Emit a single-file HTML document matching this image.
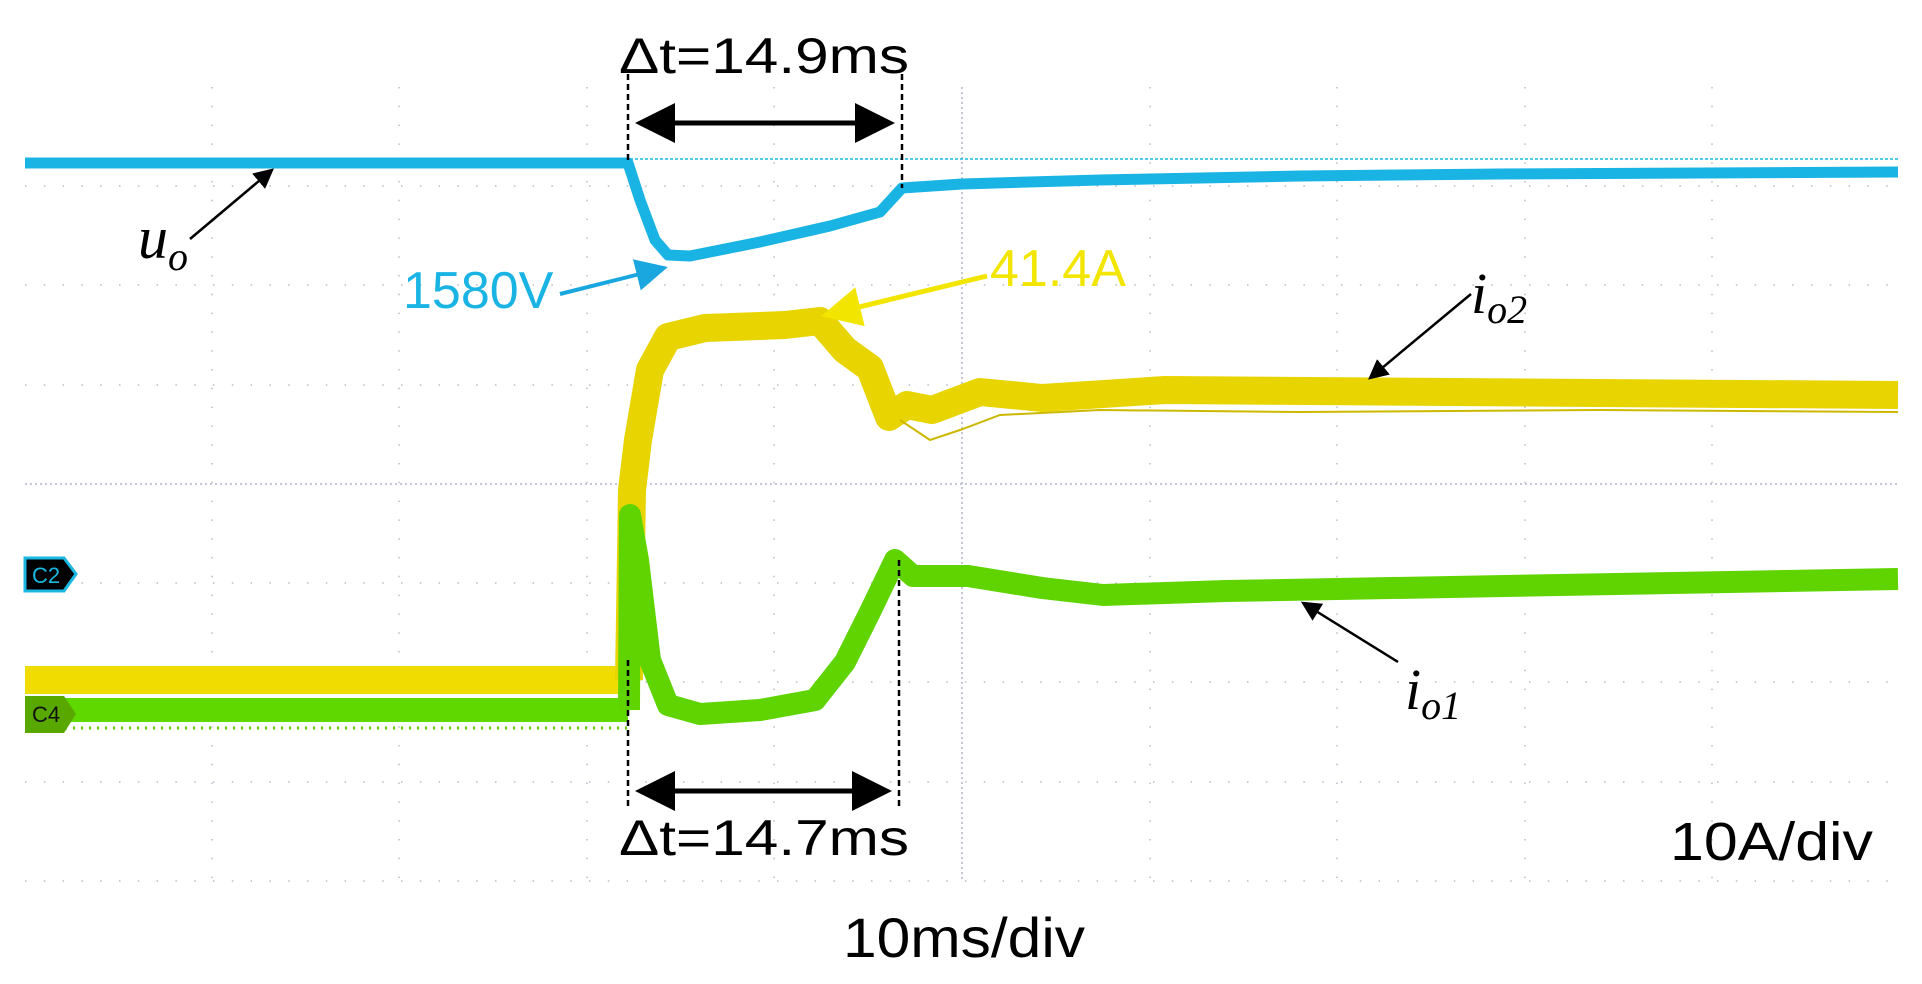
<!DOCTYPE html>
<html><head><meta charset="utf-8"><style>
html,body{margin:0;padding:0;background:#fff;}
svg{display:block;}
</style></head><body>
<svg width="1922" height="984" viewBox="0 0 1922 984" xmlns="http://www.w3.org/2000/svg" font-family="Liberation Sans, sans-serif">
<defs>
<marker id="ah" markerWidth="8" markerHeight="8" refX="7" refY="4" orient="auto" markerUnits="strokeWidth"><path d="M0,0 L8,4 L0,8 z" fill="#000"/></marker>
<marker id="ahb" markerWidth="8" markerHeight="8" refX="7" refY="4" orient="auto" markerUnits="strokeWidth"><path d="M0,0 L8,4 L0,8 z" fill="#1aa7e0"/></marker>
<marker id="ahy" markerWidth="8" markerHeight="8" refX="7" refY="4" orient="auto" markerUnits="strokeWidth"><path d="M0,0 L8,4 L0,8 z" fill="#f2e600"/></marker>
</defs>
<!-- grid -->
<g stroke="#b8bcc8" stroke-width="1.5" stroke-dasharray="1.5 17.3">
<line x1="212" y1="87" x2="212" y2="881"/><line x1="399" y1="87" x2="399" y2="881"/>
<line x1="587" y1="87" x2="587" y2="881"/><line x1="774" y1="87" x2="774" y2="881"/>
<line x1="1150" y1="87" x2="1150" y2="881"/><line x1="1337" y1="87" x2="1337" y2="881"/>
<line x1="1525" y1="87" x2="1525" y2="881"/><line x1="1712" y1="87" x2="1712" y2="881"/>
<line x1="25" y1="186" x2="1898" y2="186"/><line x1="25" y1="285" x2="1898" y2="285"/>
<line x1="25" y1="385" x2="1898" y2="385"/><line x1="25" y1="583" x2="1898" y2="583"/>
<line x1="25" y1="682" x2="1898" y2="682"/><line x1="25" y1="782" x2="1898" y2="782"/>
<line x1="25" y1="881" x2="1898" y2="881"/>
</g>
<g stroke="#b0b6c8" stroke-width="1.5" stroke-dasharray="2 3">
<line x1="962" y1="87" x2="962" y2="881"/><line x1="25" y1="484" x2="1898" y2="484"/>
</g>
<!-- cyan reference -->
<line x1="25" y1="159" x2="1898" y2="159" stroke="#1ab8e0" stroke-width="1.5" stroke-dasharray="3 2"/>
<!-- blue trace -->
<polyline fill="none" stroke="#1ab4e4" stroke-width="11" stroke-linejoin="round" points="25,163 628,163 640,200 655,240 668,255 690,256 760,242 830,226 880,212 902,188 962,184 1100,180 1300,176 1500,174 1898,172"/>
<!-- yellow trace -->
<polyline fill="none" stroke="#f0dc00" stroke-width="28" stroke-linejoin="round" points="25,680 628,680"/>
<polyline fill="none" stroke="#e8d400" stroke-width="28" stroke-linejoin="round" points="629,680 632,490 638,440 650,370 668,337 705,328 785,325 820,321 845,350 870,368 889,417 907,405 932,410 980,392 1042,398 1165,390 1898,395"/>
<polyline fill="none" stroke="#cdb800" stroke-width="2" points="900,420 930,440 960,430 1000,415 1100,410 1300,412 1600,410 1898,412"/>
<!-- green trace -->
<polyline fill="none" stroke="#5fd800" stroke-width="24" points="25,710 628,710"/>
<polyline fill="none" stroke="#5cc800" stroke-width="3" stroke-dasharray="2 6" points="25,728 628,728"/>
<polyline fill="none" stroke="#5fd400" stroke-width="22" stroke-linejoin="round" points="629,710 630,515 638,560 650,660 668,705 700,714 760,710 815,700 845,662 870,612 895,560 913,576 968,576 1042,588 1103,595 1226,591 1898,579"/>
<!-- markers -->
<path d="M25,558 L64,558 L76,574 L64,591 L25,591 z" fill="#000" stroke="#1ab8e0" stroke-width="3"/>
<text x="32" y="583" font-size="22" fill="#1ab8e0">C2</text>
<path d="M25,696 L64,696 L76,714 L64,733 L25,733 z" fill="#58a800"/>
<text x="32" y="722" font-size="22" fill="#111">C4</text>
<!-- dashed markers -->
<g stroke="#000" stroke-width="2.5" stroke-dasharray="6 4">
<line x1="628" y1="74" x2="628" y2="160"/><line x1="902" y1="74" x2="902" y2="188"/>
<line x1="628" y1="660" x2="628" y2="810"/><line x1="899" y1="560" x2="899" y2="810"/>
</g>
<g stroke="#000" stroke-width="5">
<line x1="640" y1="123" x2="890" y2="123" marker-end="url(#ah)"/>
<line x1="890" y1="123" x2="640" y2="123" marker-end="url(#ah)"/>
<line x1="640" y1="791" x2="887" y2="791" marker-end="url(#ah)"/>
<line x1="887" y1="791" x2="640" y2="791" marker-end="url(#ah)"/>
</g>
<text x="619" y="73" font-size="50" textLength="290" lengthAdjust="spacingAndGlyphs">Δt=14.9ms</text>
<text x="619" y="855" font-size="50" textLength="290" lengthAdjust="spacingAndGlyphs">Δt=14.7ms</text>
<text x="1670" y="860" font-size="54" textLength="203" lengthAdjust="spacingAndGlyphs">10A/div</text>
<text x="843" y="957" font-size="56" textLength="242" lengthAdjust="spacingAndGlyphs">10ms/div</text>
<!-- annotations -->
<line x1="190" y1="239" x2="272" y2="170" stroke="#000" stroke-width="2.5" marker-end="url(#ah)"/>
<text x="138" y="258" font-size="60" font-family="Liberation Serif, serif" font-style="italic">u<tspan font-size="40" dy="12">o</tspan></text>
<text x="403" y="308" font-size="52" fill="#1ab4e4">1580V</text>
<line x1="560" y1="294" x2="664" y2="268" stroke="#1aa7e0" stroke-width="4" marker-end="url(#ahb)"/>
<text x="990" y="286" font-size="52" fill="#f2e600">41.4A</text>
<line x1="987" y1="276" x2="826" y2="315" stroke="#f2e600" stroke-width="5" marker-end="url(#ahy)"/>
<text x="1471" y="313" font-size="58" font-family="Liberation Serif, serif" font-style="italic">i<tspan font-size="40" dy="10">o2</tspan></text>
<line x1="1471" y1="294" x2="1370" y2="378" stroke="#000" stroke-width="2.5" marker-end="url(#ah)"/>
<text x="1405" y="709" font-size="58" font-family="Liberation Serif, serif" font-style="italic">i<tspan font-size="40" dy="10">o1</tspan></text>
<line x1="1398" y1="662" x2="1303" y2="603" stroke="#000" stroke-width="2.5" marker-end="url(#ah)"/>
</svg>
</body></html>
